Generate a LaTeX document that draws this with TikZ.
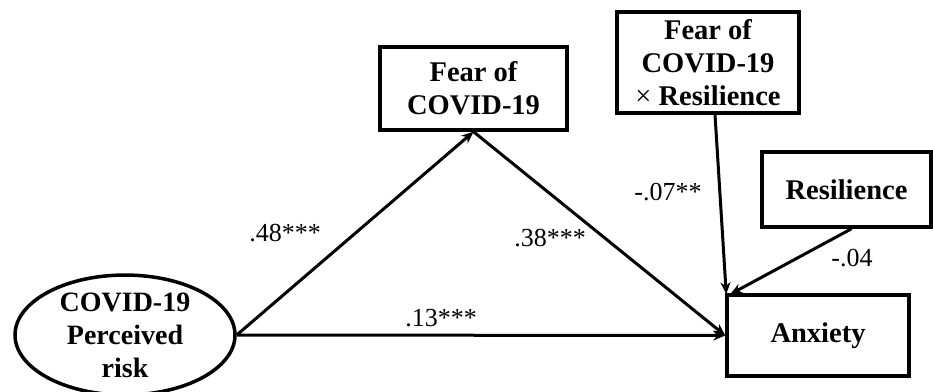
\documentclass[tikz,border=0pt]{standalone}
\usepackage{fontspec}
\setmainfont{Liberation Serif}
\usetikzlibrary{arrows.meta,shapes.geometric}
\begin{document}
\begin{tikzpicture}[x=1pt,y=-1pt,
  box/.style={draw,line width=3.5pt,align=center,font=\fontsize{28.5}{33}\selectfont\bfseries,inner sep=0pt},
  oval/.style={draw,ellipse,line width=3.5pt,align=center,font=\fontsize{28}{33}\selectfont\bfseries,inner sep=0pt},
  path/.style={line width=3pt,-{Stealth[length=12pt,width=10pt]}},
  coef/.style={font=\fontsize{26}{30}\selectfont,inner sep=0pt}]
\useasboundingbox (0,0) rectangle (933,391);
\node[oval,minimum width=220pt,minimum height=108pt] (ell) at (125,335) {COVID-19\\Perceived\\risk};
\node[box,minimum width=187pt,minimum height=83pt] (fear) at (473.5,88.5) {Fear of\\COVID-19};
\node[box,minimum width=182pt,minimum height=101pt] (inter) at (708,62.5) {Fear of\\COVID-19\\{\mdseries ×} Resilience};
\node[box,minimum width=169pt,minimum height=75pt] (res) at (846.5,189.5) {Resilience};
\node[box,minimum width=182pt,minimum height=81pt] (anx) at (818,335.5) {Anxiety};
\draw[path] (ell.east) -- (anx.west);
\draw[path] (ell.east) -- (fear.south);
\draw[path] (fear.south) -- (anx.west);
\draw[path] ([xshift=7pt]inter.south) -- ([xshift=1pt,yshift=-1pt]anx.north west);
\draw[path] ([xshift=5pt]res.south) -- ([xshift=5pt,yshift=-1pt]anx.north west);
\node[coef] (c1) at (285,233) {.48***};
\node[coef] (c2) at (550,238) {.38***};
\node[coef] (c3) at (441,318) {.13***};
\node[coef] (c4) at (668,192) {-.07**};
\node[coef] (c5) at (852,258) {-.04};
\end{tikzpicture}
\end{document}
